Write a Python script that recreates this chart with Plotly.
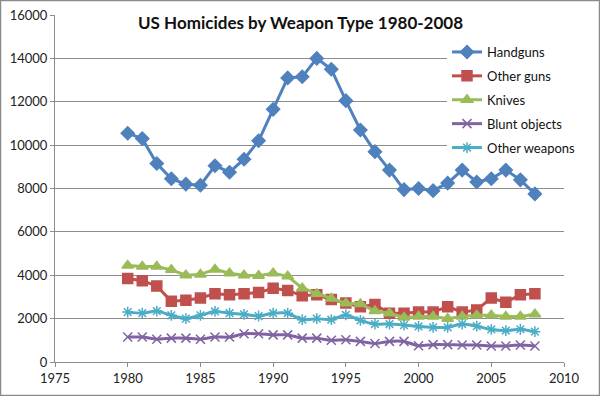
import plotly.graph_objects as go

years = list(range(1980, 2009))
handguns = [10550, 10300, 9150, 8450, 8200, 8150, 9050, 8750, 9350, 10200,
            11650, 13100, 13150, 14000, 13500, 12050, 10700, 9700, 8850, 7950,
            8000, 7900, 8250, 8850, 8300, 8450, 8850, 8400, 7750]
other_guns = [3850, 3750, 3500, 2800, 2850, 2950, 3150, 3100, 3150, 3200,
              3400, 3300, 3050, 3100, 2880, 2720, 2550, 2650, 2250, 2250,
              2300, 2300, 2550, 2300, 2400, 2950, 2750, 3100, 3150]
knives = [4450, 4400, 4400, 4250, 4000, 4040, 4270, 4090, 4000, 3980,
          4090, 3950, 3400, 3150, 2930, 2710, 2680, 2350, 2250, 2050,
          2100, 2100, 2000, 2100, 2150, 2160, 2100, 2100, 2200]
blunt = [1150, 1150, 1050, 1100, 1100, 1050, 1150, 1150, 1300, 1300,
         1250, 1250, 1100, 1100, 1000, 1030, 950, 850, 950, 950,
         750, 800, 800, 780, 780, 740, 740, 780, 740]
other_weapons = [2300, 2250, 2350, 2150, 2000, 2150, 2330, 2250, 2200, 2120,
                 2250, 2250, 1950, 2000, 1950, 2170, 1920, 1750, 1750, 1700,
                 1640, 1600, 1600, 1750, 1650, 1500, 1450, 1510, 1400]

names = ["Handguns", "Other guns", "Knives", "Blunt objects", "Other weapons"]
series = [handguns, other_guns, knives, blunt, other_weapons]
colors = ["#4F81BD", "#C0504D", "#9BBB59", "#8064A2", "#4BACC6"]
symbols = ["diamond", "square", "triangle-up", "x-thin-open", "asterisk-open"]
sizes = [10, 10, 10, 9, 9]
shapes_line = ["linear", "linear", "linear", "spline", "spline"]

FONT = "Lato, Calibri, 'Open Sans', sans-serif"

fig = go.Figure()
for i, (n, s) in enumerate(zip(names, series)):
    fig.add_trace(go.Scatter(
        x=years, y=s, name=n, mode="lines+markers",
        legendgroup=n,
        line=dict(color=colors[i], width=3, shape=shapes_line[i], smoothing=0.6),
        marker=dict(symbol=symbols[i], size=sizes[i], color=colors[i],
                    line=dict(color=colors[i], width=1.5)),
    ))

W, H = 600, 396
L, R, T, B = 55, 36, 15, 34
pw, ph = W - L - R, H - T - B

fig.update_layout(
    width=W, height=H,
    margin=dict(l=L, r=R, t=T, b=B, autoexpand=False),
    paper_bgcolor="white", plot_bgcolor="white",
    font=dict(family=FONT, size=13, color="#222222"),
    showlegend=True,
    legend=dict(x=(447 - L) / pw, y=1 - (37 - T) / ph, xanchor="left", yanchor="top",
                bgcolor="white", font=dict(size=13, color="#111111"),
                tracegroupgap=4, itemwidth=30),
    xaxis=dict(range=[1975, 2010], dtick=5, tick0=1975, showgrid=False,
               showline=True, linecolor="#8c8c8c", linewidth=1,
               ticks="outside", ticklen=4, tickcolor="#8c8c8c", zeroline=False,
               tickfont=dict(size=13), automargin=False),
    yaxis=dict(range=[0, 16000], dtick=2000, showgrid=True, gridcolor="#8c8c8c",
               gridwidth=1, showline=True, linecolor="#8c8c8c", linewidth=1,
               ticks="outside", ticklen=4, tickcolor="#8c8c8c", zeroline=False,
               tickformat="d", tickfont=dict(size=13), automargin=False),
    annotations=[dict(
        text="<b>US Homicides by Weapon Type 1980-2008</b>",
        xref="paper", yref="paper",
        x=(300 - L) / pw, y=1 - (23 - T) / ph, xanchor="center", yanchor="middle",
        showarrow=False, font=dict(size=17, color="#111111"),
        bgcolor="white", borderpad=3,
    )],
    shapes=[dict(
        type="rect", xref="paper", yref="paper",
        x0=(0.5 - L) / pw, x1=(W - 0.5 - L) / pw,
        y0=1 + (T - 0.5) / ph, y1=-(B - 0.5) / ph,
        line=dict(color="#8c8c8c", width=1.5), layer="above",
    )],
)

fig.write_html("out.html",
               config={"displayModeBar": False},
               post_script="document.body.style.margin='0';document.body.style.overflow='hidden';")
